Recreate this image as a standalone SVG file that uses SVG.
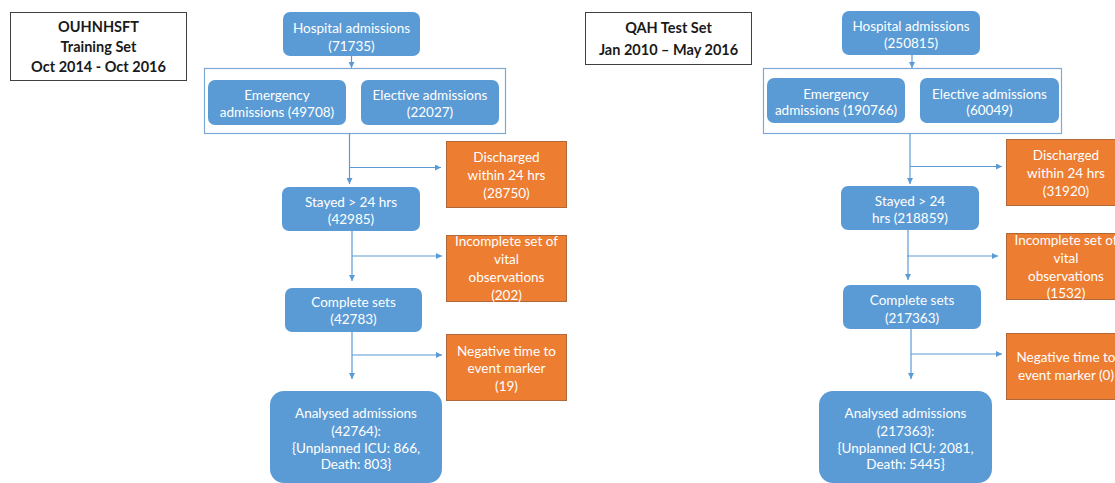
<svg xmlns="http://www.w3.org/2000/svg" width="1115" height="483" viewBox="0 0 1115 483">
<style>
.title rect{fill:#fff;stroke:#404040;stroke-width:1}
.title text{font-family:Lato,"Liberation Sans",sans-serif;font-weight:bold;font-size:14.5px;fill:#1a1a1a;text-anchor:middle}
.blue rect{fill:#5B9BD5}
.blue text,.orange text{font-family:Lato,"Liberation Sans",sans-serif;font-size:13.5px;fill:#fff;text-anchor:middle}
.orange rect{fill:#ED7D31;stroke:#B0683A;stroke-width:1}
.grp rect{fill:none;stroke:#7FA8D6;stroke-width:1.2}
.conn path{fill:none;stroke:#5B9BD5;stroke-width:1.2;marker-end:url(#ah)}
</style>
<defs>
<marker id="ah" markerUnits="userSpaceOnUse" markerWidth="6" markerHeight="6" refX="6" refY="3" orient="auto">
<path d="M0,0 L6,3 L0,6 z" fill="#5B9BD5"/>
</marker>
</defs>
<rect width="1115" height="483" fill="#fff"/>

<!-- LEFT -->
<g id="title-left" class="title"><rect x="10.5" y="12.5" width="176" height="68"/>
<text x="98.5" y="32">OUHNHSFT</text><text x="98.5" y="52">Training Set</text><text x="98.5" y="72">Oct 2014 - Oct 2016</text></g>
<g id="L-hosp" class="blue"><rect x="283" y="12" width="137" height="44" rx="7"/>
<text x="351.5" y="32.5">Hospital admissions</text><text x="351.5" y="50.5">(71735)</text></g>
<g id="L-group" class="grp"><rect x="204.5" y="68.5" width="301" height="65"/></g>
<g id="L-emerg" class="blue"><rect x="208" y="80" width="138" height="45" rx="7"/>
<text x="277" y="99.5">Emergency</text><text x="277" y="117">admissions (49708)</text></g>
<g id="L-elect" class="blue"><rect x="361" y="80" width="138" height="45" rx="7"/>
<text x="430" y="99.5">Elective admissions</text><text x="430" y="117">(22027)</text></g>
<g id="L-disch" class="orange"><rect x="446.5" y="141.5" width="120" height="66"/>
<text x="506.5" y="161.5">Discharged</text><text x="506.5" y="179.5">within 24 hrs</text><text x="506.5" y="197.5">(28750)</text></g>
<g id="L-stayed" class="blue"><rect x="282" y="187" width="138" height="44" rx="7"/>
<text x="351" y="206.5">Stayed &gt; 24 hrs</text><text x="351" y="224">(42985)</text></g>
<g id="L-incomp" class="orange"><rect x="446.5" y="235.5" width="120" height="66"/>
<text x="506.5" y="245.5">Incomplete set of</text><text x="506.5" y="263.5">vital</text><text x="506.5" y="281.5">observations</text><text x="506.5" y="299.5">(202)</text></g>
<g id="L-complete" class="blue"><rect x="285" y="288" width="137" height="44" rx="7"/>
<text x="353.5" y="306.5">Complete sets</text><text x="353.5" y="324">(42783)</text></g>
<g id="L-neg" class="orange"><rect x="446.5" y="334.5" width="120" height="66"/>
<text x="506.5" y="355.5">Negative time to</text><text x="506.5" y="372.5">event marker</text><text x="506.5" y="390.5">(19)</text></g>
<g id="L-analysed" class="blue"><rect x="270" y="391" width="172" height="92" rx="14"/>
<text x="356" y="418">Analysed admissions</text><text x="356" y="435.5">(42764):</text><text x="356" y="452.5">{Unplanned ICU: 866,</text><text x="356" y="469">Death: 803}</text></g>

<!-- RIGHT -->
<g id="title-right" class="title"><rect x="585.5" y="12.5" width="166" height="52"/>
<text x="668.5" y="33">QAH Test Set</text><text x="668.5" y="55">Jan 2010 – May 2016</text></g>
<g id="R-hosp" class="blue"><rect x="842" y="11" width="138" height="44" rx="7"/>
<text x="911" y="30.5">Hospital admissions</text><text x="911" y="47.5">(250815)</text></g>
<g id="R-group" class="grp"><rect x="763.5" y="68.5" width="298" height="65"/></g>
<g id="R-emerg" class="blue"><rect x="767" y="78" width="138" height="45" rx="7"/>
<text x="836" y="98.5">Emergency</text><text x="836" y="114.5">admissions (190766)</text></g>
<g id="R-elect" class="blue"><rect x="920" y="78" width="139" height="45" rx="7"/>
<text x="989.5" y="98.5">Elective admissions</text><text x="989.5" y="114.5">(60049)</text></g>
<g id="R-disch" class="orange"><rect x="1006.5" y="139.5" width="120" height="66"/>
<text x="1066" y="159.5">Discharged</text><text x="1066" y="177.5">within 24 hrs</text><text x="1066" y="196">(31920)</text></g>
<g id="R-stayed" class="blue"><rect x="841" y="186" width="138" height="44" rx="7"/>
<text x="910" y="205.5">Stayed &gt; 24</text><text x="910" y="222.5">hrs (218859)</text></g>
<g id="R-incomp" class="orange"><rect x="1006.5" y="233.5" width="120" height="66"/>
<text x="1066" y="244.5">Incomplete set of</text><text x="1066" y="262.5">vital</text><text x="1066" y="280.5">observations</text><text x="1066" y="297.5">(1532)</text></g>
<g id="R-complete" class="blue"><rect x="843" y="285" width="138" height="44" rx="7"/>
<text x="912" y="304.5">Complete sets</text><text x="912" y="322.5">(217363)</text></g>
<g id="R-neg" class="orange"><rect x="1006.5" y="333.5" width="120" height="66"/>
<text x="1066" y="361.5">Negative time to</text><text x="1066" y="379.5">event marker (0)</text></g>
<g id="R-analysed" class="blue"><rect x="819" y="391" width="173" height="92" rx="14"/>
<text x="905.5" y="417.5">Analysed admissions</text><text x="905.5" y="435.5">(217363):</text><text x="905.5" y="452.5">{Unplanned ICU: 2081,</text><text x="905.5" y="468.5">Death: 5445}</text></g>

<g id="connectors" class="conn">
<path d="M351.5,56 V68"/>
<path d="M349.5,133.5 V184"/>
<path d="M349.5,167.5 H441"/>
<path d="M352,231 V281"/>
<path d="M352,256 H442"/>
<path d="M352,332 V379"/>
<path d="M352,355 H442"/>
<path d="M912,55 V68"/>
<path d="M910,133.5 V184"/>
<path d="M910,166.5 H1002"/>
<path d="M908,230 V280"/>
<path d="M907,256 H998"/>
<path d="M911,329 V379"/>
<path d="M911,354 H1002"/>
</g>
</svg>
